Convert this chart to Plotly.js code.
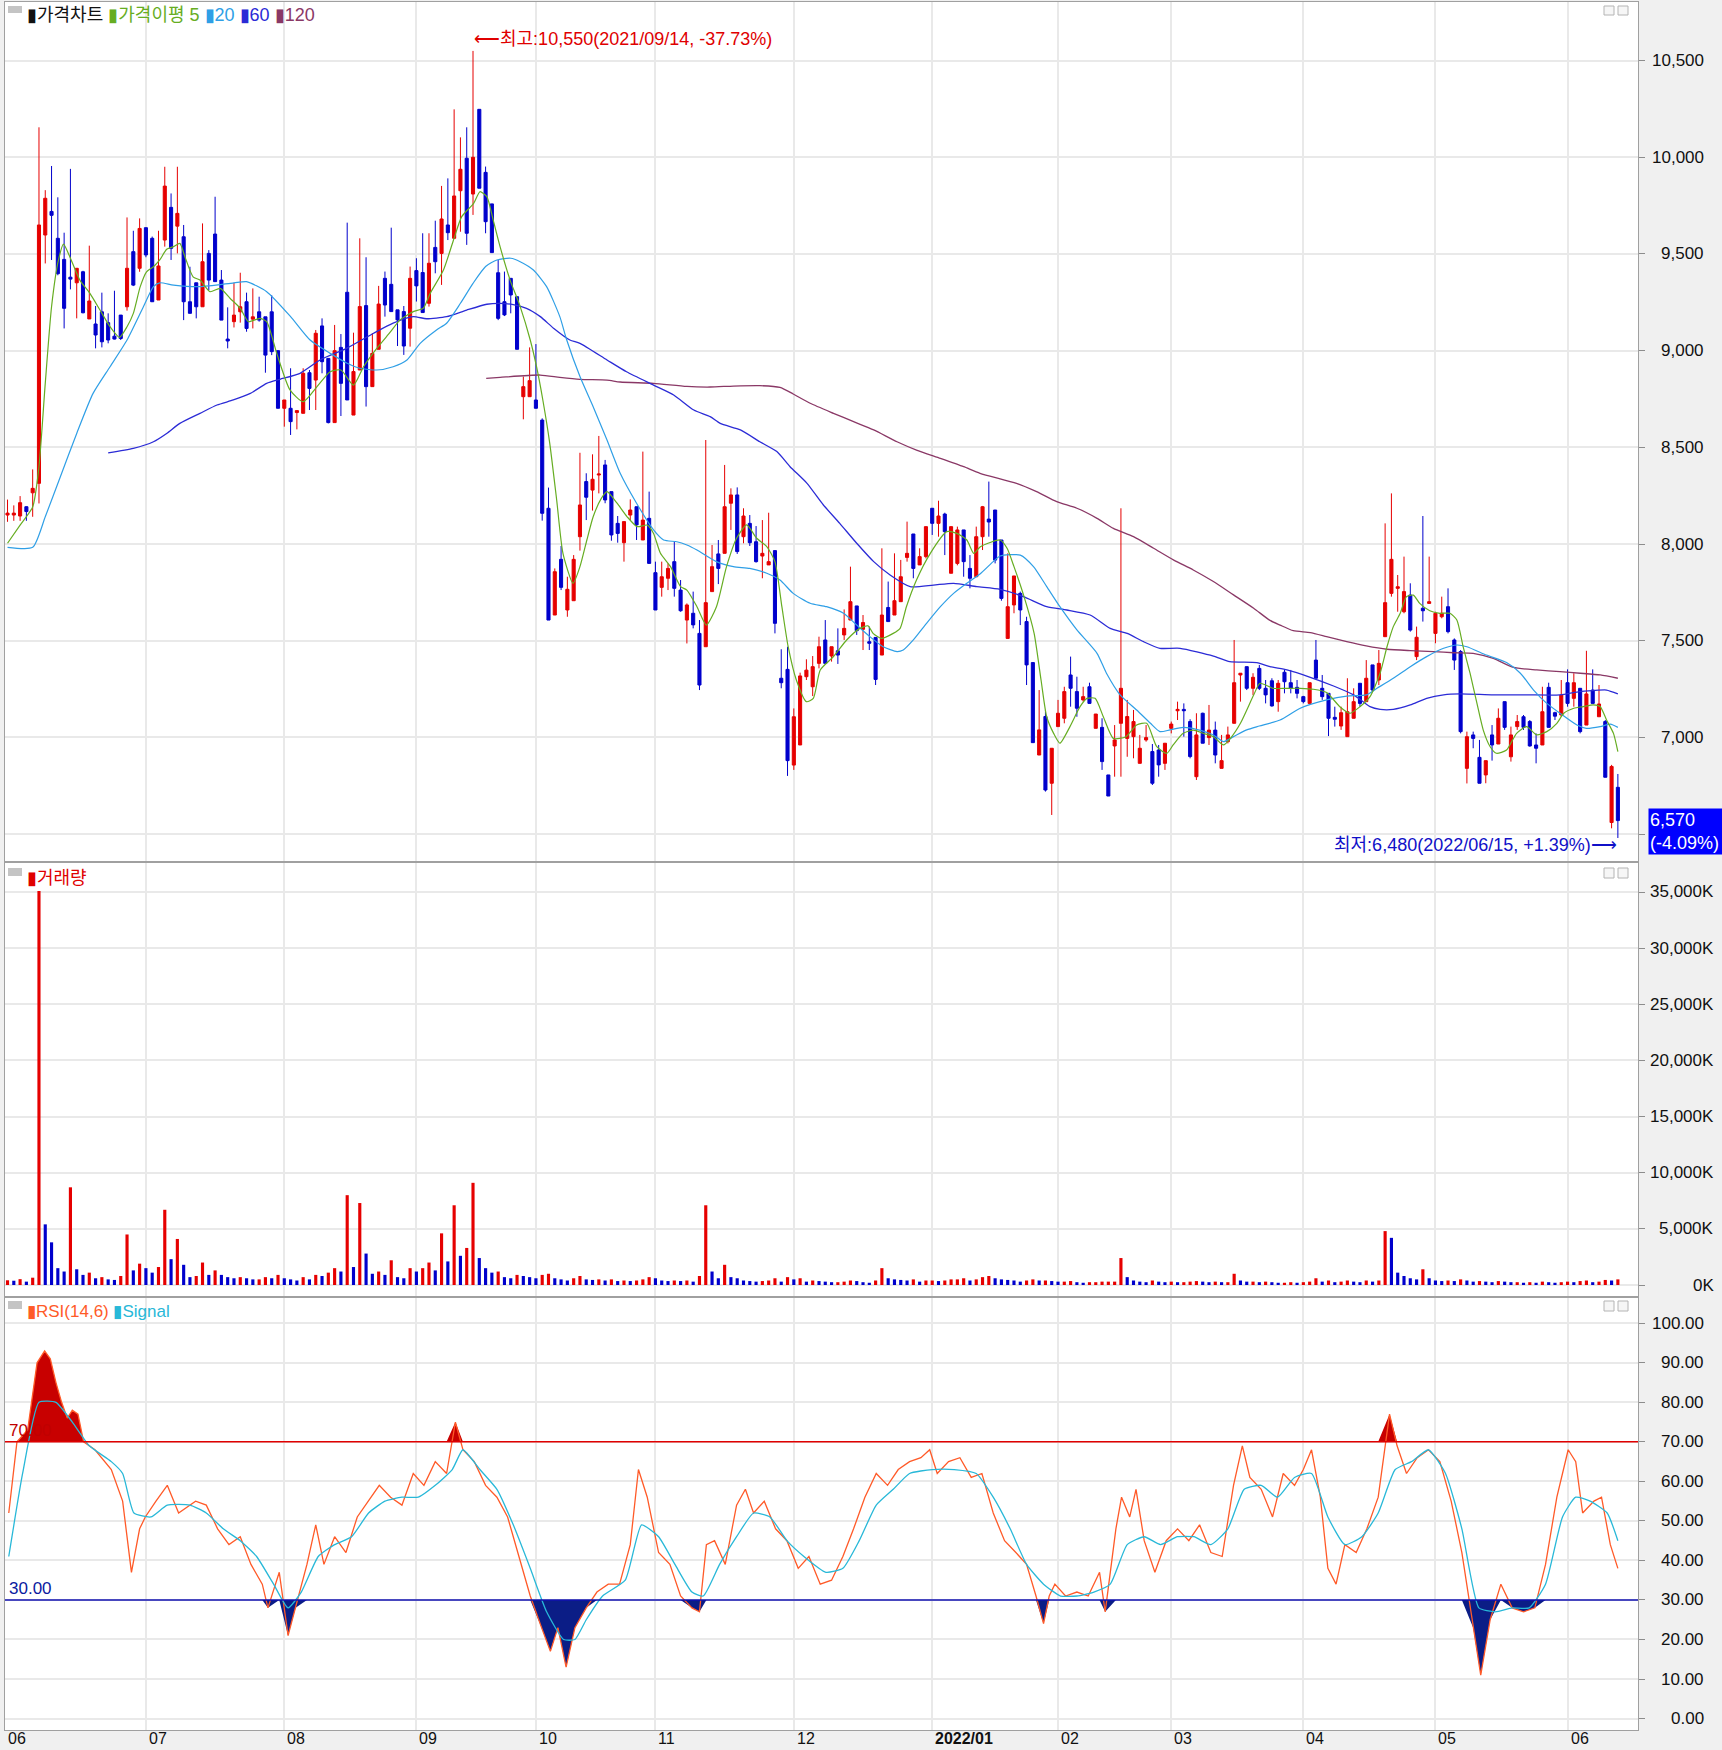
<!DOCTYPE html>
<html><head><meta charset="utf-8">
<script src="https://cdn.plot.ly/plotly-3.0.1.min.js"></script>
<style>html,body{margin:0;padding:0;background:#f0f0f0;}#chart{width:1722px;height:1750px;}</style>
</head><body><div id="chart"></div>
<script>
// ---------- data (trading-day index 0 = 2021/06/01 ... 256 = 2022/06/15) ----------
const monthLabels = ['06','07','08','09','10','11','12','2022/01','02','03','04','05','06'];
const monthStart  = [0,22,44,65,84,103,125,147,167,185,206,227,248];

const openP = [8150,8150,8145,8193,8265,8314,9598,9720,9581,9472,
9380,9351,9408,9164,9138,9201,9145,9075,9184,9227,
9512,9426,9636,9581,9262,9572,9741,9644,9589,9253,
9351,9227,9503,9603,9365,9060,9150,9201,9253,9163,
9201,9175,9201,9000,8702,8702,8680,8676,8886,8848,
9128,8960,8628,9017,9302,8667,8900,9233,8814,9007,
9374,9343,9211,9202,9116,9414,9404,9245,9534,9503,
9650,9581,9827,9995,9810,10248,9922,9759,9403,9253,
9374,9279,8762,8762,8745,8641,8185,7633,7921,7659,
7707,8038,8323,8279,8357,8409,8271,8107,8007,8150,
8193,8021,8133,7852,7776,7823,7909,7762,7607,7642,
7538,7469,7754,7949,7952,8211,8254,8038,8107,8012,
7938,7892,7966,7306,7352,6857,6961,7314,7262,7383,
7504,7421,7448,7530,7607,7680,7559,7495,7517,7426,
7672,7633,7702,7931,8052,7892,7935,8185,8107,8155,
7849,7900,8073,7874,7831,8038,8129,8176,8021,7512,
7685,7745,7599,7387,6909,7108,6763,7056,7099,7323,
7237,7194,7262,7047,7052,6806,6956,7073,6995,7004,
6866,6987,6927,6935,6866,7047,7138,7145,7082,6797,
7125,6999,7038,6840,6978,7073,7323,7366,7254,7357,
7254,7293,7185,7337,7283,7259,7211,7176,7400,7254,
7228,7104,7059,7004,7099,7280,7185,7375,7297,7521,
7745,7771,7650,7736,7418,7668,7693,7538,7624,7676,
7504,7444,6840,7013,6897,6806,7013,6966,7185,6900,
7056,7107,7082,6961,6961,7259,7128,7116,7283,7202,
7254,7064,7245,7107,7082,6560,6742];
const highP = [8230,8200,8248,8195,8386,10155,9830,9955,9793,9610,
9940,9426,9413,9543,9231,9300,9193,9310,9184,9689,
9620,9684,9636,9590,9620,9951,9813,9951,9650,9434,
9351,9658,9520,9796,9417,9224,9351,9403,9300,9322,
9279,9175,9287,9000,8745,8909,8690,8909,8900,9107,
9167,8960,9133,9086,9662,9093,9581,9483,9090,9335,
9409,9636,9211,9231,9435,9478,9607,9607,9672,9852,
9891,10248,10103,10155,10550,10248,9952,9759,9469,9409,
9374,9279,8866,9017,9034,8650,8292,7874,7990,7831,
7943,8472,8366,8464,8559,8435,8271,8145,8116,8231,
8193,8478,8271,7909,7909,7900,8012,7814,7693,7754,
7607,8538,7995,8021,8409,8288,8293,8185,8150,8093,
8124,8162,7966,7456,7469,7150,7335,7404,7421,7521,
7607,7469,7564,7662,7883,7680,7633,7573,7517,7978,
7806,7952,7918,8116,8052,7978,8090,8185,8224,8162,
8090,8090,8073,7943,8090,8197,8323,8176,8021,7952,
7835,7754,7624,7387,7245,7142,6944,7194,7262,7418,
7314,7262,7283,7121,7099,6806,7064,8185,7194,7142,
7013,7064,6966,6961,6970,7082,7185,7176,7094,7125,
7128,7168,7082,7013,7056,7504,7332,7366,7332,7375,
7297,7306,7297,7349,7349,7297,7215,7283,7504,7323,
7228,7159,7159,7306,7254,7280,7400,7375,7452,8107,
8262,7840,7935,7797,7573,8145,7935,7650,7728,7771,
7512,7452,7030,7030,6987,6880,7064,7150,7185,7056,
7116,7116,7090,7021,7262,7283,7133,7297,7352,7332,
7254,7448,7352,7271,7090,6858,6811];
const lowP = [8115,8120,8120,8120,8141,8210,9451,9469,9390,9115,
9317,9167,9193,9164,9012,9017,9038,9058,9055,9207,
9334,9408,9483,9253,9262,9538,9469,9503,9158,9193,
9167,9227,9313,9357,9158,9012,9120,9145,9098,9115,
9150,8886,8977,8702,8607,8564,8593,8676,8693,8693,
8883,8624,8628,8662,8745,8667,8900,8711,8814,9007,
9176,9202,9024,8978,9021,9254,9197,9228,9400,9340,
9572,9581,9615,9547,9702,9840,9607,9507,9158,9179,
9193,9007,8645,8762,8702,8121,7607,7633,7762,7624,
7707,7966,8124,8173,8262,8211,8017,8007,7909,8124,
8021,8021,7900,7659,7728,7762,7728,7650,7486,7564,
7245,7469,7754,7793,7952,8073,7949,8004,7990,7904,
7823,7892,7538,7254,6801,6832,6961,7297,7214,7357,
7383,7392,7380,7504,7607,7530,7452,7452,7271,7426,
7599,7633,7702,7909,7823,7892,7926,8047,8038,7943,
7849,7890,7831,7771,7831,7969,8038,7900,7707,7512,
7642,7581,7271,6973,6909,6720,6599,7056,7073,7159,
7107,7185,7176,7047,6832,6697,6797,6797,6900,6892,
6866,6978,6754,6797,6832,7021,7090,7004,6892,6780,
6970,6961,6866,6840,6969,7073,7185,7245,7219,7245,
7176,7159,7133,7228,7228,7202,7176,7176,7306,7194,
7007,7056,7039,7004,7099,7159,7185,7237,7271,7521,
7728,7650,7642,7547,7400,7599,7693,7487,7616,7538,
7349,7021,6762,6944,6763,6763,6880,6966,7039,6875,
7039,7039,6952,6866,6961,7052,7090,7107,7159,7159,
7021,7064,7176,7107,6794,6530,6480];
const closeP = [8160,8160,8214,8168,8288,9650,9788,9700,9398,9219,
9370,9426,9196,9257,9081,9046,9055,9060,9063,9426,
9339,9632,9495,9253,9438,9851,9529,9710,9253,9193,
9227,9460,9365,9357,9158,9050,9184,9227,9115,9175,
9158,8977,8995,8702,8745,8633,8690,8883,8805,9090,
8943,8628,9000,8831,8745,8892,9228,8814,8986,9241,
9236,9202,9159,9024,9374,9335,9197,9452,9460,9681,
9610,9800,9938,9607,10000,9840,9667,9507,9167,9185,
9288,9007,8814,8845,8702,8159,7607,7857,7776,7766,
7921,8202,8242,8335,8362,8228,8047,8055,8116,8176,
8099,8124,7900,7659,7831,7874,7771,7655,7685,7582,
7271,7697,7883,7874,8193,8254,7961,8145,8007,7909,
7952,7909,7590,7283,6880,7107,7318,7348,7366,7469,
7383,7469,7426,7564,7702,7552,7594,7487,7300,7633,
7599,7707,7831,7952,7874,7935,8090,8107,8145,8064,
8090,8073,7909,7823,8038,8193,8114,7917,7719,7676,
7835,7659,7375,6973,7039,6728,6944,7125,7237,7254,
7151,7211,7176,7121,6875,6697,6987,7254,7108,7082,
6944,6999,6763,6858,6970,7069,7145,7138,6901,7013,
6970,7038,6909,6880,7013,7283,7332,7254,7311,7254,
7220,7163,7280,7288,7254,7228,7185,7283,7306,7211,
7099,7094,7128,7133,7185,7176,7306,7245,7383,7697,
7921,7779,7754,7555,7518,7655,7702,7642,7642,7547,
7400,7030,7004,6995,6763,6880,6961,7099,7052,7013,
7082,7052,6956,6944,7133,7052,7110,7219,7176,7283,
7030,7225,7176,7173,6794,6850,6570];
// volume, thousands of shares
const volumeK = [420,380,520,300,650,35100,5400,3800,1500,1200,
8700,1400,900,1100,600,700,500,450,800,4500,
1300,1900,1500,1100,1600,6700,2300,4100,1800,700,
800,2000,900,1300,900,700,600,700,600,500,
500,700,600,900,600,500,400,700,500,900,
800,1100,1500,1200,8000,1600,7300,2800,1000,1200,
900,2200,700,600,1500,1200,1500,2000,1300,4600,
2100,7100,2600,3300,9100,2400,1500,1100,1200,700,
600,900,800,700,600,900,1000,600,500,400,
600,800,500,450,500,400,500,350,400,350,
400,500,700,600,400,350,400,350,400,300,
800,7100,1200,600,1800,700,600,400,350,300,
350,400,600,300,700,500,600,300,400,350,
300,250,250,300,400,350,250,200,400,1500,
600,500,450,400,500,300,400,400,350,400,
500,500,600,400,500,700,800,600,500,450,
400,300,400,500,400,400,350,300,300,350,
250,200,250,250,300,300,300,2400,700,400,
300,250,400,300,250,300,250,250,300,350,
300,250,300,250,250,1000,400,300,300,250,
300,250,200,200,250,200,250,300,600,300,
400,250,300,400,300,250,400,300,400,4800,
4200,1100,800,600,500,1400,600,400,350,400,
350,500,400,300,350,300,250,350,300,250,
250,200,250,200,300,250,200,250,300,250,
350,400,250,300,450,400,500];

// moving averages: [trading-day index, value]
const ma5Pts = [[0,8004],[2,8098],[4,8192],[5,8400],[6,8831],[7,9227],[8.1,9469],[8.9,9551],[9.9,9486],[11.5,9365],[13.1,9296],[14.7,9210],[16.3,9124],[17.8,9069],[19,9124],[20,9193],[21.1,9331],[22.1,9408],[23.2,9434],[24.2,9469],[25.3,9524],[26.4,9538],[27.4,9555],[28.2,9486],[29.5,9382],[30.6,9365],[32.2,9305],[33.8,9322],[35.4,9270],[37,9219],[38.3,9150],[40.1,9167],[41.2,9150],[42.8,8986],[44.9,8797],[47,8736],[49.2,8814],[51.3,8891],[53,8900],[55,8822],[56.6,8917],[58.7,9012],[60.9,9098],[62.4,9159],[64.5,9202],[66.1,9219],[67.2,9297],[69.3,9417],[70.9,9572],[72.2,9693],[74.1,9762],[75.1,9822],[76.2,9797],[77.2,9676],[78.3,9538],[79.9,9365],[81.5,9228],[83.1,9055],[84.1,8917],[85.1,8745],[86.2,8521],[87.3,8228],[88.3,7952],[89.9,7797],[91,7883],[92.1,8021],[93.1,8141],[94.4,8236],[95.3,8271],[96.9,8211],[98.5,8141],[100.1,8090],[101.7,8098],[102.7,8055],[103.8,7952],[105.4,7883],[107,7780],[108,7762],[109.6,7676],[111.1,7581],[112.7,7676],[114.3,7883],[115.9,8030],[117.5,8099],[119.1,8030],[120.7,7987],[122,7909],[123.1,7676],[124.1,7469],[125.4,7297],[127,7185],[128.1,7202],[129.2,7349],[131.3,7418],[133.4,7504],[135.5,7564],[136.8,7577],[137.6,7538],[138.9,7512],[140.8,7538],[141.9,7564],[142.9,7676],[144.5,7814],[146.7,7952],[149.3,8064],[150.9,8055],[152.5,8021],[153.6,7952],[154.6,7985],[156.2,8008],[157.8,8021],[158.9,7978],[160,7883],[161.6,7728],[163.2,7538],[164.3,7297],[165.2,7107],[166.3,7021],[167.3,6970],[168.9,7056],[170.5,7159],[171.6,7202],[172.9,7202],[174.2,7107],[175.8,6995],[177.8,7004],[179.5,7064],[181.1,7073],[182.7,6952],[184.3,6918],[185.3,6961],[186.9,7021],[188.5,7038],[190.1,7021],[191.7,7004],[193.3,6961],[194.4,6995],[196,7073],[198.1,7219],[199.1,7280],[201.2,7254],[203.4,7254],[205.5,7254],[207.6,7249],[209.7,7232],[211.8,7159],[213.4,7125],[215,7159],[216.6,7211],[218.2,7332],[219.3,7469],[220.3,7573],[221.4,7642],[222.4,7728],[223.5,7736],[224.5,7693],[226.1,7655],[227.7,7642],[229.3,7642],[230.4,7607],[231.4,7469],[232.5,7332],[233.6,7176],[234.6,7038],[235.7,6952],[236.7,6918],[238.3,6935],[239.9,7021],[241.5,7056],[243.1,7013],[244.7,7030],[246.3,7073],[247.4,7125],[249,7151],[250.5,7159],[252.1,7168],[253.2,7159],[254.2,7090],[255.3,7021],[256,6926]];
const ma20Pts = [[0,7983],[4,7983],[6,8141],[8.4,8348],[11,8572],[13.6,8779],[16.3,8917],[19,9055],[21.6,9227],[23.2,9331],[24.2,9351],[26.4,9339],[30.6,9331],[36,9351],[38,9357],[41.2,9305],[45,9176],[48.1,9055],[51.3,8986],[54,8935],[56,8909],[58.7,8900],[61.3,8917],[63.5,8952],[65.6,9038],[68.2,9107],[69.8,9142],[72,9245],[74,9348],[76,9435],[77.8,9469],[80,9478],[81.5,9460],[83.6,9417],[85.7,9331],[87.8,9176],[88.9,9055],[91,8866],[93.1,8710],[95.3,8538],[97.4,8366],[100,8211],[102.7,8073],[104.3,8021],[106.4,8012],[108,7995],[109.6,7969],[112.7,7909],[115.4,7883],[118,7874],[120.7,7849],[122.8,7814],[124.9,7745],[127.6,7694],[130.2,7676],[132.9,7642],[135,7581],[137.1,7521],[139.2,7469],[141.4,7444],[142.4,7452],[144,7504],[146.1,7590],[148.3,7676],[150.4,7745],[152.5,7797],[154.6,7845],[156.7,7909],[157.8,7938],[161,7943],[163.1,7883],[165.2,7780],[167.3,7676],[170,7556],[173.2,7435],[174.7,7332],[176.9,7219],[179.5,7142],[181.7,7073],[183.2,7030],[184.8,7039],[186.9,7052],[189,7042],[191.7,7013],[193.3,6978],[194.9,7004],[197,7039],[199,7059],[202.3,7090],[205.5,7151],[209.7,7194],[212.9,7214],[216,7220],[217.7,7254],[220.3,7306],[223,7366],[225.6,7418],[228.3,7461],[230.4,7478],[232,7469],[235.1,7426],[238.3,7387],[240.5,7332],[242.6,7245],[244.7,7176],[246.8,7125],[249.5,7064],[251,7047],[253.2,7056],[254.8,7069],[256,7052]];
const ma60Pts = [[16,8472],[20,8495],[23.2,8529],[25.3,8572],[27.4,8624],[30.6,8676],[33.3,8719],[35.9,8745],[38.6,8779],[41.2,8831],[43.3,8852],[46.5,8883],[49.7,8952],[53.9,9012],[58.2,9090],[61.3,9142],[64.5,9176],[66.6,9165],[69.8,9176],[73,9210],[76.2,9240],[78.3,9245],[80.4,9238],[82.5,9219],[84.7,9176],[86.8,9116],[89.4,9055],[91,9038],[95.3,8952],[98.4,8891],[102.7,8822],[105.9,8771],[109.1,8693],[111.7,8659],[113.3,8624],[116.5,8590],[119.6,8529],[122.3,8478],[124.4,8400],[127.1,8314],[129.7,8202],[132.3,8107],[135,8004],[137.7,7909],[140.3,7840],[143.5,7780],[147.2,7788],[150.4,7797],[154.1,7780],[157.8,7766],[161.5,7728],[165.2,7676],[168.4,7659],[172.1,7633],[175.3,7564],[178,7538],[180.6,7495],[183.2,7461],[186.4,7461],[191.7,7421],[194.3,7392],[198.6,7387],[200.7,7366],[203.4,7349],[207.1,7311],[210.8,7266],[214,7220],[216.6,7159],[218.2,7145],[220.3,7145],[223,7168],[225.6,7202],[228.3,7220],[230.9,7225],[236.2,7220],[241.5,7220],[246.8,7220],[249.9,7237],[252,7242],[254.2,7245],[256,7225]];
const ma120Pts = [[76.1,8857],[78.3,8862],[84.7,8874],[87.8,8862],[91,8852],[95.3,8848],[97.4,8838],[102.7,8831],[108,8815],[111.7,8812],[115.4,8817],[119.6,8819],[122.8,8810],[124.9,8776],[127.6,8728],[131.3,8676],[134.5,8633],[137.7,8590],[141.4,8529],[144.5,8486],[148.3,8443],[152,8400],[154.6,8366],[160.4,8314],[163.6,8271],[166.8,8219],[170,8185],[173.2,8133],[175.8,8081],[179,8038],[182.2,7978],[185.4,7917],[188.5,7866],[191.7,7806],[194.9,7737],[198.1,7668],[200.7,7605],[202.3,7581],[204.4,7552],[207.1,7542],[209.7,7521],[212.9,7495],[216,7473],[219.3,7456],[223,7449],[226.7,7444],[229.9,7438],[233,7435],[236.2,7409],[239.4,7362],[243.1,7349],[246.8,7340],[250,7332],[253.2,7323],[256,7306]];

// RSI(14,6) and signal: [trading-day index, value]
const rsiPts = [[0.2,52],[1.5,70],[3.2,73],[4.7,90],[5.9,93],[6.8,91],[7.7,85],[8.6,80],[9.5,76],[10.3,78],[11.2,77],[12.1,70],[13.9,68],[16.5,63],[18.3,55],[19.7,37],[21,48],[21.9,51],[23.6,55],[25.4,59],[27.2,52],[29.9,55],[31.6,54],[33.4,48],[35.2,44],[37,46],[38.7,39],[40.5,34],[41.4,28],[43.2,37],[44.6,21],[45.8,28],[47.6,39],[49,49],[50.3,39],[52,46],[53.8,42],[55.6,51],[57.4,55],[59.1,59],[60.9,56],[62.7,54],[64.5,62],[66.2,59],[68,65],[69.8,62],[71.2,75],[72.4,68],[74.2,65],[76,59],[77.8,56],[79.5,51],[81.3,41],[83.1,31],[84.9,23],[86.3,17],[87.5,23],[88.8,13],[90.2,23],[92,28],[93.7,32],[95.5,34],[97.3,34],[99,44],[100.3,63],[101.7,56],[103.5,42],[105.3,39],[107,31],[108.8,28],[110,27],[111.1,44],[112.4,45],[114.1,39],[115.9,54],[117.3,58],[118.6,52],[120.3,55],[122.1,48],[123.9,45],[125.7,38],[127.4,41],[129.2,34],[131,35],[132.8,41],[134.5,48],[136.3,56],[138.1,62],[139.9,59],[141.6,63],[143.4,65],[145.2,66],[146.6,68],[147.8,62],[149.6,65],[151.4,66],[153.2,61],[154.9,62],[156.7,52],[158.5,45],[160.3,42],[162,39],[163.5,31],[164.7,24],[165.6,31],[166.5,34],[168.2,31],[170,32],[171.8,31],[173.6,37],[174.5,27],[176.2,48],[177.1,56],[178.4,51],[179.4,58],[180.7,45],[182.4,37],[184.2,45],[186,48],[187.8,45],[189.5,49],[191.3,42],[193.1,41],[194.9,59],[196.3,69],[197.5,61],[199.3,58],[201.1,51],[202.8,62],[204.6,59],[206,63],[207.3,68],[208.7,56],[209.9,38],[211.2,34],[212.6,44],[214.4,42],[216.1,48],[217.9,56],[219.7,77],[220.9,69],[222.4,62],[224.1,66],[225.9,68],[227.7,65],[229.5,55],[231.2,42],[233,23],[234.2,11],[235.7,25],[237.4,34],[239.2,28],[241,27],[242.8,28],[244.5,39],[246.3,56],[248.1,68],[249.3,65],[250.4,52],[252.2,55],[253.4,56],[254.8,44],[256,38]];
const sigPts = [[0.2,41],[2.4,62],[5,80],[7.7,80],[10.3,75],[13,69],[16.5,65],[18.3,62],[20.1,52],[22.8,51],[25.4,54],[29,54],[31.6,52],[34.3,48],[37,45],[39.6,41],[42.3,34],[44.6,28],[46.7,32],[49.4,41],[52,44],[54.7,46],[57.4,52],[60,55],[62.7,56],[65.3,56],[68,59],[70.7,63],[72.4,68],[75.1,63],[77.8,58],[80.4,49],[83.1,38],[85.7,27],[88.4,20],[90.2,20],[92,25],[94.6,31],[98.2,35],[100.8,49],[103.5,46],[106.1,39],[108.8,32],[110.6,31],[113.2,39],[115.9,46],[118.6,52],[121.2,51],[123.9,45],[126.6,41],[130.1,37],[132.8,38],[135.4,45],[138.1,54],[140.8,58],[143.4,62],[147,63],[150.5,63],[154,62],[156.7,56],[159.4,48],[162,39],[164.7,34],[167.4,31],[170,31],[172.7,32],[175.3,34],[178,44],[180.7,46],[183.3,44],[186,46],[188.6,46],[191.3,44],[194,48],[196.6,58],[199.3,59],[201.9,56],[204.6,61],[207.3,62],[209.9,51],[212.6,44],[215.3,46],[217.9,52],[220.6,63],[223.2,65],[225.9,68],[228.6,62],[231.2,48],[233.9,28],[236.5,27],[239.2,28],[241.9,28],[244.5,34],[247.2,51],[249.3,56],[251.6,55],[254.3,52],[256,45]];

const priceTicks = [6500,7000,7500,8000,8500,9000,9500,10000,10500];
const volTicks = [0,5000,10000,15000,20000,25000,30000,35000];
const rsiTicks = [0,10,20,30,40,50,60,70,80,90,100];

// ---------- styling ----------
const UP='#e60000', DOWN='#0000cc';
const C5='#66ad22', C20='#2f9fe6', C60='#2b2bd6', C120='#8a3866';
const CRSI='#ff5a28', CSIG='#28b8d8';
const GRID='#e9e9e9', BORDER='#a0a0a0';
const FONT="'Liberation Sans','Noto Sans CJK KR',sans-serif";
const W=1722,H=1750, ML=5, MR=84, MT=2, MB=20;
const PW=W-ML-MR, PH=H-MT-MB;
const px2x = x => (x-ML)/PW;
const px2y = y => (H-MB-y)/PH;

const idx = closeP.map((_,i)=>i);
const xs = a => a.map(p=>p[0]);
const ys = a => a.map(p=>p[1]);

const traces = [];
traces.push({type:'candlestick', x:idx, open:openP, high:highP, low:lowP, close:closeP,
  increasing:{line:{color:UP,width:1},fillcolor:UP}, decreasing:{line:{color:DOWN,width:1},fillcolor:DOWN},
  whiskerwidth:0, xaxis:'x', yaxis:'y', hoverinfo:'skip', showlegend:false});
[[ma120Pts,C120,1.3],[ma60Pts,C60,1.3],[ma20Pts,C20,1.2],[ma5Pts,C5,1.2]].forEach(([p,c,w])=>{
  traces.push({type:'scatter',mode:'lines',x:xs(p),y:ys(p),line:{color:c,width:w,shape:'spline',smoothing:0.6},xaxis:'x',yaxis:'y',hoverinfo:'skip',showlegend:false});
});
// volume bars: red when volume rises vs. previous day, blue when it falls
traces.push({type:'bar', x:idx, y:volumeK, marker:{color:volumeK.map((v,i)=> (i===0 || v>=volumeK[i-1]) ? UP : DOWN), line:{width:0}},
  width:0.5, xaxis:'x', yaxis:'y2', hoverinfo:'skip', showlegend:false});
// RSI zones
const rx = xs(rsiPts), ry = ys(rsiPts);
traces.push({type:'scatter',mode:'lines',x:rx,y:rx.map(()=>70),line:{width:0,color:'rgba(0,0,0,0)'},xaxis:'x',yaxis:'y3',hoverinfo:'skip',showlegend:false});
traces.push({type:'scatter',mode:'lines',x:rx,y:ry.map(v=>Math.max(v,70)),fill:'tonexty',fillcolor:'#c80000',line:{width:0,color:'rgba(0,0,0,0)'},xaxis:'x',yaxis:'y3',hoverinfo:'skip',showlegend:false});
traces.push({type:'scatter',mode:'lines',x:rx,y:rx.map(()=>30),line:{width:0,color:'rgba(0,0,0,0)'},xaxis:'x',yaxis:'y3',hoverinfo:'skip',showlegend:false});
traces.push({type:'scatter',mode:'lines',x:rx,y:ry.map(v=>Math.min(v,30)),fill:'tonexty',fillcolor:'#0b1d86',line:{width:0,color:'rgba(0,0,0,0)'},xaxis:'x',yaxis:'y3',hoverinfo:'skip',showlegend:false});
traces.push({type:'scatter',mode:'lines',x:rx,y:ry,line:{color:CRSI,width:1.3},xaxis:'x',yaxis:'y3',hoverinfo:'skip',showlegend:false});
traces.push({type:'scatter',mode:'lines',x:xs(sigPts),y:ys(sigPts),line:{color:CSIG,width:1.3,shape:'spline',smoothing:0.5},xaxis:'x',yaxis:'y3',hoverinfo:'skip',showlegend:false});

const yBase = {side:'right', showticklabels:false, ticks:'outside', ticklen:6, tickcolor:'#8c8c8c', tickwidth:1,
  showgrid:true, gridcolor:GRID, gridwidth:2, showline:true, mirror:true, linecolor:BORDER, linewidth:1, zeroline:false, fixedrange:true};
const last = closeP.length-1;
const fmt = v => v.toLocaleString('en-US');
const ann = [];
// right-aligned tick labels
const labX = px2x(1706);
const TF = {family:FONT,size:17,color:'#111'};
priceTicks.filter(v=>v>=7000).forEach(v=>ann.push({xref:'paper',yref:'y',x:labX,y:v,text:fmt(v),showarrow:false,xanchor:'right',yanchor:'middle',font:TF}));
volTicks.forEach(v=>ann.push({xref:'paper',yref:'y2',x:px2x(1716),y:v,text:fmt(v)+'K',showarrow:false,xanchor:'right',yanchor:'middle',font:TF}));
rsiTicks.forEach(v=>ann.push({xref:'paper',yref:'y3',x:labX,y:v,text:v.toFixed(2),showarrow:false,xanchor:'right',yanchor:'middle',font:TF}));
// month labels
monthLabels.forEach((m,k)=>ann.push({xref:'x',yref:'paper',x:monthStart[k],y:px2y(1739),xshift:monthStart[k]===0?-2:1,text:k===7?'<b>'+m+'</b>':m,showarrow:false,xanchor:'left',yanchor:'middle',font:{family:FONT,size:16,color:'#111'}}));
// legends
ann.push({xref:'paper',yref:'paper',x:px2x(25),y:px2y(15),xanchor:'left',yanchor:'middle',showarrow:false,
  text:'<span style="color:#111">▮가격차트</span> <span style="color:'+C5+'">▮가격이평 5</span> <span style="color:'+C20+'">▮20</span> <span style="color:'+C60+'">▮60</span> <span style="color:'+C120+'">▮120</span>',
  font:{family:FONT,size:18,color:'#111'}});
ann.push({xref:'paper',yref:'paper',x:px2x(25),y:px2y(878),xanchor:'left',yanchor:'middle',showarrow:false,
  text:'<span style="color:#e00000">▮거래량</span>',font:{family:FONT,size:18,color:'#e00000'}});
ann.push({xref:'paper',yref:'paper',x:px2x(25),y:px2y(1311),xanchor:'left',yanchor:'middle',showarrow:false,
  text:'<span style="color:'+CRSI+'">▮RSI(14,6)</span> <span style="color:'+CSIG+'">▮Signal</span>',font:{family:FONT,size:17,color:CRSI}});
// high / low notes
let hi=0; highP.forEach((v,i)=>{if(v>highP[hi])hi=i;});
let lo=0; lowP.forEach((v,i)=>{if(v<lowP[lo])lo=i;});
const pct = (a,b)=>((a/b-1)*100);
ann.push({xref:'x',yref:'y',x:hi,y:highP[hi],xanchor:'left',yanchor:'bottom',xshift:-1,yshift:0,showarrow:false,
  text:'⟵최고:'+fmt(highP[hi])+'(2021/09/14, '+pct(closeP[last],highP[hi]).toFixed(2)+'%)',font:{family:FONT,size:18,color:'#e00000'}});
ann.push({xref:'x',yref:'y',x:lo,y:lowP[lo],xanchor:'right',yanchor:'middle',xshift:1,yshift:-7,showarrow:false,
  text:'최저:'+fmt(lowP[lo])+'(2022/06/15, +'+pct(closeP[last],lowP[lo]).toFixed(2)+'%)⟶',font:{family:FONT,size:18,color:'#1010c8'}});
// last price box
ann.push({xref:'paper',yref:'y',x:px2x(1648),y:closeP[last],xanchor:'left',yanchor:'top',yshift:13,showarrow:false,
  text:fmt(closeP[last])+'<br>('+pct(closeP[last],closeP[last-1]).toFixed(2)+'%)',align:'left',bgcolor:'#0000ff',borderpad:1,width:72,
  font:{family:FONT,size:18,color:'#ffffff'}});
// 70 / 30 labels
ann.push({xref:'paper',yref:'y3',x:0.001,y:70,xanchor:'left',yanchor:'bottom',showarrow:false,text:'70.00',font:{family:FONT,size:17,color:'#c00000'}});
ann.push({xref:'paper',yref:'y3',x:0.001,y:30,xanchor:'left',yanchor:'bottom',showarrow:false,text:'30.00',font:{family:FONT,size:17,color:'#0a1aa0'}});

const shapes = [
  {type:'line',xref:'paper',yref:'y3',x0:0,x1:1,y0:70,y1:70,line:{color:'#e00000',width:1.5}},
  {type:'line',xref:'paper',yref:'y3',x0:0,x1:1,y0:30,y1:30,line:{color:'#1010b0',width:1.5}}
];
// small panel icons
[[6,13],[868,876],[1301,1309]].forEach(([t,b])=>{
  shapes.push({type:'rect',xref:'paper',yref:'paper',x0:px2x(8),x1:px2x(22),y0:px2y(b),y1:px2y(t),line:{width:0},fillcolor:'#c4c4c4'});
  shapes.push({type:'rect',xref:'paper',yref:'paper',x0:px2x(1604),x1:px2x(1614),y0:px2y(b+2),y1:px2y(t),line:{color:'#b4b4b4',width:1},fillcolor:'#f6f6f6'});
  shapes.push({type:'rect',xref:'paper',yref:'paper',x0:px2x(1618),x1:px2x(1628),y0:px2y(b+2),y1:px2y(t),line:{color:'#b4b4b4',width:1},fillcolor:'#f6f6f6'});
});

const layout = {
  width:W, height:H, margin:{l:ML,r:MR,t:MT,b:MB,pad:0},
  paper_bgcolor:'#f0f0f0', plot_bgcolor:'#ffffff', showlegend:false, dragmode:false,
  xaxis:{anchor:'y3', range:[-0.4,259.2], tickvals:monthStart.slice(1), showticklabels:false, ticks:'',
    showgrid:true, gridcolor:GRID, gridwidth:2, showline:true, mirror:'all', linecolor:BORDER, linewidth:1,
    zeroline:false, rangeslider:{visible:false}, fixedrange:true},
  yaxis:Object.assign({}, yBase, {domain:[px2y(861),1], range:[6361,10803], tickvals:priceTicks}),
  yaxis2:Object.assign({}, yBase, {domain:[px2y(1296),px2y(863)], range:[-980,37583], tickvals:volTicks}),
  yaxis3:Object.assign({}, yBase, {domain:[0,px2y(1298)], range:[-2.9,106.4], tickvals:rsiTicks}),
  annotations:ann, shapes:shapes, boxgap:0.3
};
Plotly.newPlot('chart', traces, layout, {staticPlot:true, displayModeBar:false});
</script></body></html>
